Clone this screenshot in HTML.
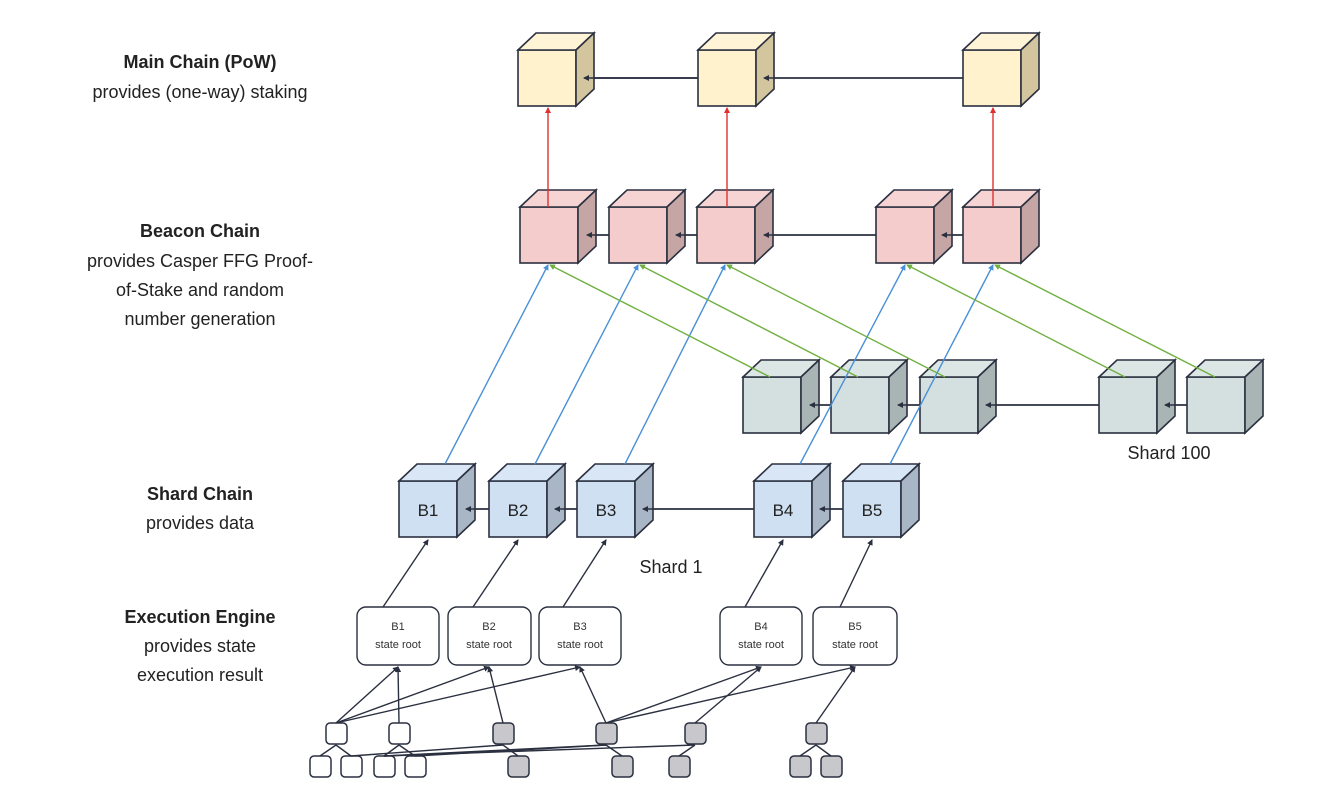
<!DOCTYPE html>
<html><head><meta charset="utf-8"><style>
html,body{margin:0;padding:0;background:#fff;}
svg{display:block;font-family:"Liberation Sans",sans-serif;}
</style></head><body>
<svg id="s" width="1328" height="806" viewBox="0 0 1328 806" xmlns="http://www.w3.org/2000/svg">
<defs>
<marker id="ak" markerWidth="6" markerHeight="6" refX="5" refY="3" orient="auto" markerUnits="userSpaceOnUse"><path d="M0,0 L6,3 L0,6 z" fill="#2b3040"/></marker>
<marker id="ar" markerWidth="6" markerHeight="6" refX="5" refY="3" orient="auto" markerUnits="userSpaceOnUse"><path d="M0,0 L6,3 L0,6 z" fill="#e03030"/></marker>
<marker id="ab" markerWidth="6" markerHeight="6" refX="5" refY="3" orient="auto" markerUnits="userSpaceOnUse"><path d="M0,0 L6,3 L0,6 z" fill="#4a90d9"/></marker>
<marker id="ag" markerWidth="6" markerHeight="6" refX="5" refY="3" orient="auto" markerUnits="userSpaceOnUse"><path d="M0,0 L6,3 L0,6 z" fill="#70b040"/></marker>
</defs>
<g id="cubes"></g>
<g id="lines" fill="none" stroke-width="1.4"></g>
<g font-size="18" fill="#222" text-anchor="middle">
<text x="200" y="68" font-weight="bold">Main Chain (PoW)</text>
<text x="200" y="98">provides (one-way) staking</text>
<text x="200" y="237" font-weight="bold">Beacon Chain</text>
<text x="200" y="267">provides Casper FFG Proof-</text>
<text x="200" y="296">of-Stake and random</text>
<text x="200" y="325">number generation</text>
<text x="200" y="500" font-weight="bold">Shard Chain</text>
<text x="200" y="529">provides data</text>
<text x="200" y="623" font-weight="bold">Execution Engine</text>
<text x="200" y="652">provides state</text>
<text x="200" y="681">execution result</text>
<text x="1169" y="459">Shard 100</text>
<text x="671" y="573">Shard 1</text>
</g>
<g font-size="17" fill="#222" text-anchor="middle">
<text x="428" y="516">B1</text>
<text x="518" y="516">B2</text>
<text x="606" y="516">B3</text>
<text x="783" y="516">B4</text>
<text x="872" y="516">B5</text>
</g>
<g font-size="11" fill="#333" text-anchor="middle">
<text x="398" y="630">B1</text><text x="398" y="648">state root</text>
<text x="489" y="630">B2</text><text x="489" y="648">state root</text>
<text x="580" y="630">B3</text><text x="580" y="648">state root</text>
<text x="761" y="630">B4</text><text x="761" y="648">state root</text>
<text x="855" y="630">B5</text><text x="855" y="648">state root</text>
</g>
</svg>
<script>
var NS="http://www.w3.org/2000/svg";
var C=document.getElementById("cubes"),L=document.getElementById("lines");
function el(p,tag,a){var e=document.createElementNS(NS,tag);for(var k in a)e.setAttribute(k,a[k]);p.appendChild(e);return e;}
function cube(x,y,f,t,s){var w=58,h=56,d=18,u=17,st="#2b3040";
el(C,"rect",{x:x,y:y,width:w,height:h,fill:f,stroke:st,"stroke-width":1.6});
el(C,"polygon",{points:[x,y,x+d,y-u,x+w+d,y-u,x+w,y].join(" "),fill:t,stroke:st,"stroke-width":1.6});
el(C,"polygon",{points:[x+w,y,x+w+d,y-u,x+w+d,y+h-u,x+w,y+h].join(" "),fill:s,stroke:st,"stroke-width":1.6});}
function line(x1,y1,x2,y2,c,m){el(L,"line",{x1:x1,y1:y1,x2:x2,y2:y2,stroke:c,"marker-end":m?"url(#"+m+")":""});}
function hl(x1,x2,y){el(C,"line",{x1:x1,y1:y,x2:x2,y2:y,stroke:"#2b3040","stroke-width":1.4});}
hl(582,963,78);hl(582,698,78);
hl(584,963,235);
hl(807,1187,405);
hl(463,843,509);
[518,698,963].forEach(function(x){cube(x,50,"#fff2cc","#fff4d6","#d3c69f");});
[520,609,697,876,963].forEach(function(x){cube(x,207,"#f4cccc","#f6d4d4","#c6a5a5");});
[743,831,920,1099,1187].forEach(function(x){cube(x,377,"#d3e0df","#dbe6e5","#a9b5b5");});
[399,489,577,754,843].forEach(function(x){cube(x,481,"#cfe0f2","#d8e6f5","#a8b6c6");});
[[698,584,78],[963,764,78],[609,587,235],[697,676,235],[876,764,235],[963,942,235],[831,810,405],[920,898,405],[1099,986,405],[1187,1165,405],[489,466,509],[577,555,509],[754,643,509],[843,820,509]].forEach(function(a){line(a[0],a[2],a[1],a[2],"#2b3040","ak");});
[[548,207,548,108],[727,207,727,108],[993,207,993,108]].forEach(function(a){line(a[0],a[1],a[2],a[3],"#e03030","ar");});
[[445,464,548,265],[535,464,638,265],[625,464,725,265],[800,464,905,265],[890,464,993,265]].forEach(function(a){line(a[0],a[1],a[2],a[3],"#4a90d9","ab");});
[[770,377,550,265],[858,377,640,265],[945,377,727,265],[1125,377,907,265],[1215,377,995,265]].forEach(function(a){line(a[0],a[1],a[2],a[3],"#70b040","ag");});
[[383,607,428,540],[473,607,518,540],[563,607,606,540],[745,607,783,540],[840,607,872,540]].forEach(function(a){line(a[0],a[1],a[2],a[3],"#2b3040","ak");});
[[357,439],[448,531],[539,621],[720,802],[813,897]].forEach(function(b){el(C,"rect",{x:b[0],y:607,width:b[1]-b[0],height:58,rx:9,fill:"#fff",stroke:"#2b3040","stroke-width":1.4});});
function sb(x,y,g){el(C,"rect",{x:x,y:y,width:21,height:21,rx:4,fill:g?"#c8c8cc":"#fff",stroke:"#2b3040","stroke-width":1.5});}
var E=[[336,723,398,667],[399,723,398,667],[336,723,489,667],[503,723,489,667],[336,723,580,667],[606,723,580,667],[606,723,761,667],[695,723,761,667],[606,723,855,667],[816,723,855,667],
[336,745,320,756],[336,745,351,756],[399,745,384,756],[399,745,415,756],[503,745,518,756],[606,745,622,756],[695,745,679,756],[816,745,800,756],[816,745,831,756],
[503,745,351,756],[606,745,384,756],[695,745,384,756],[606,745,415,756]];
E.forEach(function(a){line(a[0],a[1],a[2],a[3],"#2b3040",(a[3]<700?"ak":""));});
[[326,0],[389,0],[493,1],[596,1],[685,1],[806,1]].forEach(function(a){sb(a[0],723,a[1]);});
[[310,0],[341,0],[374,0],[405,0],[508,1],[612,1],[669,1],[790,1],[821,1]].forEach(function(a){sb(a[0],756,a[1]);});
</script>
</body></html>
